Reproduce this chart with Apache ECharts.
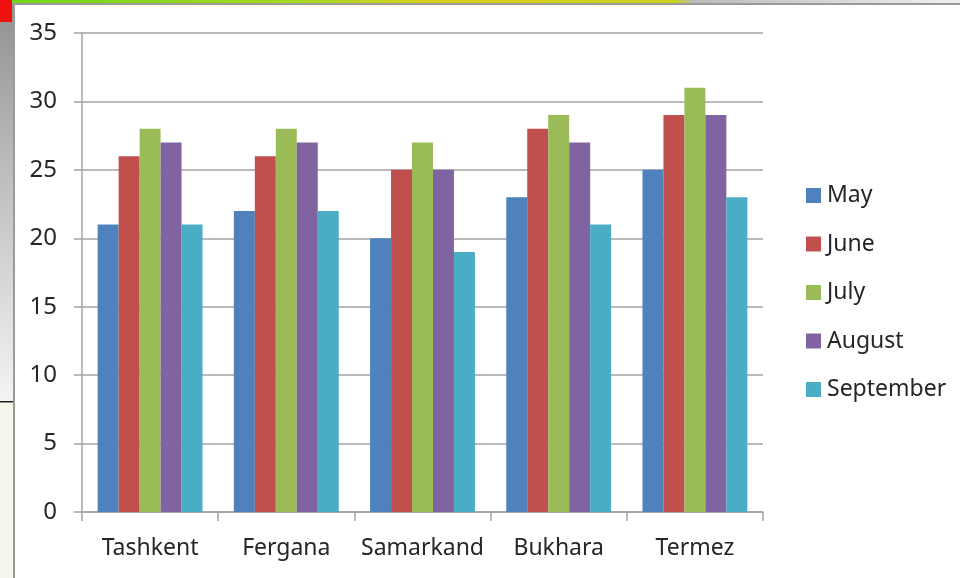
<!DOCTYPE html>
<html lang="en">

<head>
    <meta charset="UTF-8">
    <title>Temperatures</title>
    <style>
        html, body { margin: 0; padding: 0; background: #fff; }
        #chart { width: 960px; height: 578px; }
    </style>
</head>

<body>
    <div id="chart"></div>
    <script src="https://cdn.jsdelivr.net/npm/echarts@6/dist/echarts.min.js"></script>
    <script>
        var cities = ['Tashkent', 'Fergana', 'Samarkand', 'Bukhara', 'Termez']
        var may = [21, 22, 20, 23, 25]
        var june = [26, 26, 25, 28, 29]
        var july = [28, 28, 27, 29, 31]
        var august = [27, 27, 25, 27, 29]
        var september = [21, 22, 19, 21, 23]
        var colors = ['#4f81bd', '#c0504d', '#9bbb59', '#8064a2', '#4bacc6']
        var textColor = '#262626'
        var lineColor = '#a3a3a3'

        function bar(name, values) {
            return {
                name: name,
                type: 'bar',
                data: values,
                barGap: 0,
                barCategoryGap: '23%'
            }
        }

        var myecharts = echarts.init(document.getElementById('chart'))
        myecharts.setOption({
            animation: false,
            color: colors,
            textStyle: { fontFamily: 'Noto Sans' },
            grid: { left: 82, top: 33, width: 681, height: 479 },
            legend: {
                orient: 'vertical',
                left: 801,
                top: 179,
                itemWidth: 15,
                itemHeight: 15,
                itemGap: 25.5,
                icon: 'rect',
                selectedMode: false,
                textStyle: { color: textColor, fontSize: 23, padding: [0, 0, 0, 1], fontFamily: 'Noto Sans' }
            },
            xAxis: {
                type: 'category',
                data: cities,
                axisLine: { lineStyle: { color: lineColor, width: 1.5 } },
                axisTick: { show: true, interval: 0, length: 9, lineStyle: { color: lineColor, width: 1.5 } },
                axisLabel: { color: textColor, fontSize: 23, margin: 25, interval: 0, hideOverlap: false, fontFamily: 'Noto Sans' }
            },
            yAxis: {
                type: 'value',
                min: 0,
                max: 35,
                interval: 5,
                axisLine: { show: true, lineStyle: { color: lineColor, width: 1.5 } },
                axisTick: { show: true, length: 8, lineStyle: { color: lineColor, width: 1.5 } },
                splitLine: { lineStyle: { color: lineColor, width: 1.5 } },
                axisLabel: { color: textColor, fontSize: 24, margin: 25, fontFamily: 'Noto Sans' }
            },
            // bits of the screenshot around the chart window
            graphic: [
                { type: 'rect', z: -1, shape: { x: 0, y: 0, width: 14, height: 401 },
                  style: { fill: new echarts.graphic.LinearGradient(0, 0, 0, 1, [
                      { offset: 0, color: '#8f8f8f' }, { offset: 0.35, color: '#b5b5b5' },
                      { offset: 0.75, color: '#dcdcdc' }, { offset: 1, color: '#f4f4f4' }]) } },
                { type: 'rect', z: -1, shape: { x: 0, y: 401, width: 14, height: 177 }, style: { fill: '#f7f6ea' } },
                { type: 'rect', z: -1, shape: { x: 0, y: 401, width: 14, height: 1.5 }, style: { fill: '#222' } },
                { type: 'rect', z: -1, shape: { x: 0, y: 0, width: 12, height: 22 }, style: { fill: '#f01010' } },
                { type: 'rect', z: -1, shape: { x: 12, y: 0, width: 948, height: 3 },
                  style: { fill: new echarts.graphic.LinearGradient(0, 0, 1, 0, [
                      { offset: 0, color: '#6fd61a' }, { offset: 0.3, color: '#a8d820' }, { offset: 0.45, color: '#d8d020' },
                      { offset: 0.7, color: '#c8d020' }, { offset: 0.72, color: '#bbbbbb' }, { offset: 1, color: '#f0f0f0' }]) } },
                { type: 'rect', z: -1, shape: { x: 12, y: 3, width: 948, height: 2 }, style: { fill: '#9a9a9a' } },
                { type: 'rect', z: -1, shape: { x: 13, y: 3, width: 2, height: 575 }, style: { fill: '#9a9a9a' } }
            ],
            series: [
                bar('May', may),
                bar('June', june),
                bar('July', july),
                bar('August', august),
                bar('September', september)
            ]
        })
    </script>
</body>

</html>
